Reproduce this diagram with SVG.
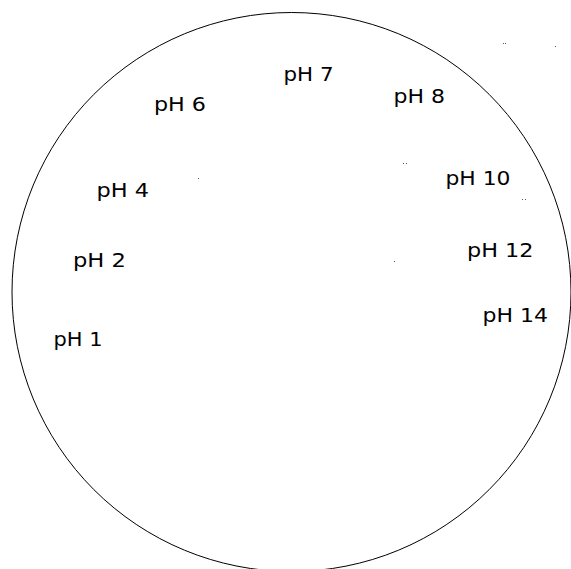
<svg xmlns="http://www.w3.org/2000/svg" width="571" height="569" viewBox="0 0 571 569">
<style>
.lbl{font-family:"DejaVu Sans","Liberation Sans",sans-serif;font-size:19px;fill:#000}
.speck{fill:#555}
</style>
<rect width="571" height="569" fill="#fff"/>
<g id="dish">
<circle cx="291.5" cy="292" r="279.5" fill="none" stroke="#000" stroke-width="1"/>
</g>
<g id="ph1"><text class="lbl" x="53.5" y="346" textLength="49" lengthAdjust="spacingAndGlyphs">pH 1</text></g>
<g id="ph2"><text class="lbl" x="73" y="266.5" textLength="53" lengthAdjust="spacingAndGlyphs">pH 2</text></g>
<g id="ph4"><text class="lbl" x="96.5" y="196.5" textLength="52.5" lengthAdjust="spacingAndGlyphs">pH 4</text></g>
<g id="ph6"><text class="lbl" x="154" y="111" textLength="52" lengthAdjust="spacingAndGlyphs">pH 6</text></g>
<g id="ph7"><text class="lbl" x="283.5" y="80.5" textLength="50" lengthAdjust="spacingAndGlyphs">pH 7</text></g>
<g id="ph8"><text class="lbl" x="393.5" y="103" textLength="51.5" lengthAdjust="spacingAndGlyphs">pH 8</text></g>
<g id="ph10"><text class="lbl" x="445.5" y="185" textLength="65" lengthAdjust="spacingAndGlyphs">pH 10</text></g>
<g id="ph12"><text class="lbl" x="467" y="256.5" textLength="66.5" lengthAdjust="spacingAndGlyphs">pH 12</text></g>
<g id="ph14"><text class="lbl" x="482.5" y="322" textLength="65.5" lengthAdjust="spacingAndGlyphs">pH 14</text></g>
<g id="specks">
<rect class="speck" x="403" y="163" width="1" height="1"/>
<rect class="speck" x="406" y="163" width="1" height="1"/>
<rect class="speck" x="522" y="199" width="1" height="1"/>
<rect class="speck" x="525" y="199" width="1" height="1"/>
<rect class="speck" x="198" y="178" width="1" height="1"/>
<rect class="speck" x="394" y="261" width="1" height="1"/>
<rect class="speck" x="503" y="43" width="1" height="1"/>
<rect class="speck" x="505" y="43" width="1" height="1"/>
<rect class="speck" x="555" y="46" width="1" height="1"/>
</g>
</svg>
